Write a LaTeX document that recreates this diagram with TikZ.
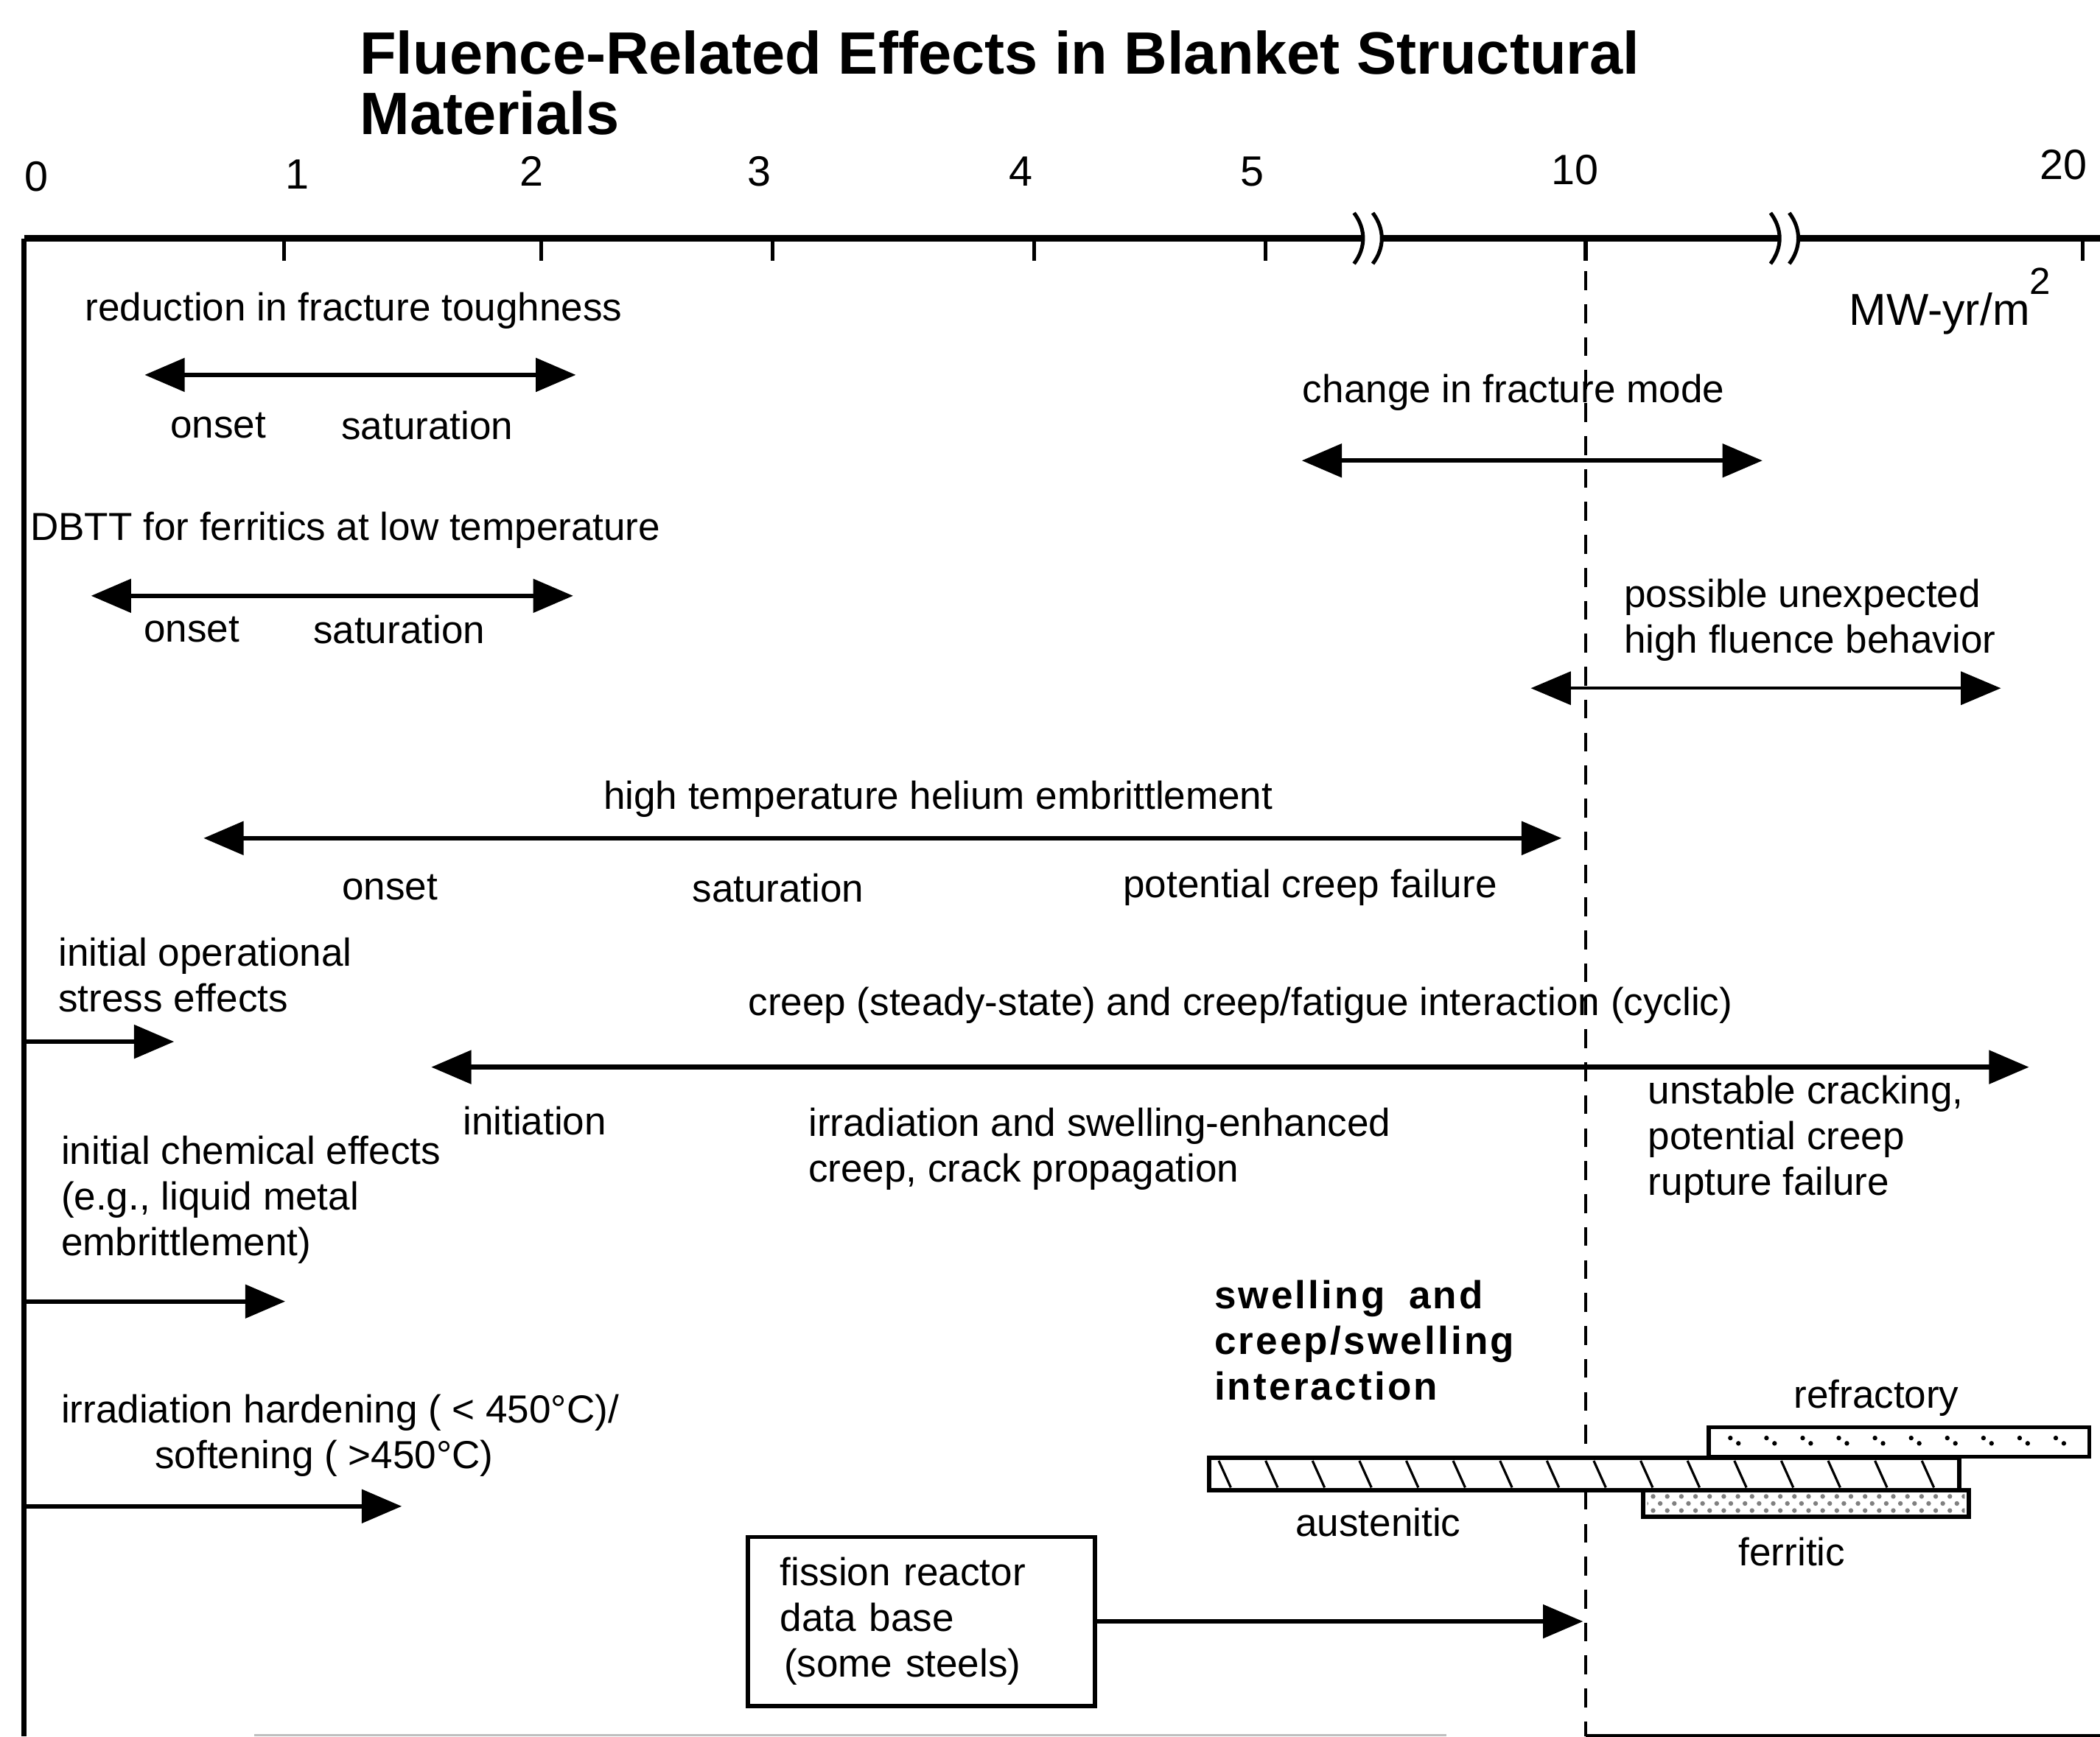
\documentclass[tikz,border=0pt]{standalone}
\usepackage{fontspec}
\setmainfont{Liberation Sans}
\newfontfamily\wideFont[LetterSpace=6]{Liberation Sans}
\usetikzlibrary{arrows.meta,patterns}

\begin{document}
\begin{tikzpicture}[x=0.01cm, y=-0.01cm,
    >={Triangle[length=8.5pt,width=7pt]},
    effectText/.style={font=\fontsize{8.3}{9.7}\selectfont, inner sep=0pt, anchor=west, align=left},
    subText/.style={font=\fontsize{8.3}{9.7}\selectfont, inner sep=0pt},
    effectArrow/.style={line width=1pt},
    tickLabel/.style={font=\fontsize{9}{10}\selectfont, inner sep=0pt}]
    \def\axisY{178}
    \def\bottomY{1297}
    \def\tenX{1184}

    \definecolor{inkColour}{HTML}{000000}
    \definecolor{dotColour}{HTML}{808080}

    \useasboundingbox (0,0) rectangle (1568,1297);

    % Title
    \node[anchor=west, inner sep=0pt, align=left, font=\fontsize{12.7}{12.8}\selectfont\bfseries] (title) at (268,62)
        {Fluence-Related Effects in Blanket Structural\\Materials};

    % Axes
    \draw[line width=1.3pt, inkColour] (18,\axisY) -- (1018,\axisY);
    \draw[line width=1.3pt, inkColour] (1032,\axisY) -- (1329,\axisY);
    \draw[line width=1.3pt, inkColour] (1343,\axisY) -- (1568,\axisY);
    \draw[line width=1.1pt, inkColour] (18,\axisY) -- (18,\bottomY);

    % Axis breaks
    \foreach \bx in {1014,1028,1325,1339}
        \draw[line width=0.8pt] (\bx-3,159) .. controls (\bx+6,171) and (\bx+6,185) .. (\bx-3,197);

    % Ticks and tick labels
    \foreach \x in {212,404,577,772,945,\tenX,1555}
        \draw[line width=0.8pt] (\x,\axisY) -- (\x,\axisY+17);
    \foreach \x/\y/\v in {27/132/0, 222/130/1, 397/128/2, 567/128/3, 762/128/4, 935/128/5, 1176/127/10, 1541/123/20}
        \node[tickLabel] (tick\v) at (\x,\y) {\v};
    \node[anchor=west, inner sep=0pt, font=\fontsize{9.5}{10}\selectfont] (unit) at (1380,225)
        {MW-yr/m\raisebox{6.5pt}{\fontsize{8}{8}\selectfont 2}};

    % 10 MW-yr/m2 line
    \draw[line width=0.7pt, dash pattern=on 4pt off 3pt] (\tenX,\axisY) -- (\tenX,\bottomY);
    \draw[gray!50, line width=0.4pt] (190,1296) -- (1080,1296);
    \draw[line width=0.6pt] (\tenX,1296) -- (1568,1296);

    % Fracture toughness
    \node[effectText] (toughness) at (63,232) {reduction in fracture toughness};
    \coordinate (toughL) at (108,280);
    \coordinate (toughR) at (430,280);
    \draw[effectArrow, <->] (toughL) -- (toughR);
    \node[subText] (toughOnset) at (163,318) {onset};
    \node[subText] (toughSat) at (319,318) {saturation};

    % Fracture mode
    \node[effectText] (mode) at (972,293) {change in fracture mode};
    \coordinate (modeL) at (972,344);
    \coordinate (modeR) at (1316,344);
    \draw[effectArrow, <->] (modeL) -- (modeR);

    % DBTT
    \node[effectText] (dbtt) at (22,396) {DBTT for ferritics at low temperature};
    \coordinate (dbttL) at (68,445);
    \coordinate (dbttR) at (428,445);
    \draw[effectArrow, <->] (dbttL) -- (dbttR);
    \node[subText] (dbttOnset) at (143,470) {onset};
    \node[subText] (dbttSat) at (298,470) {saturation};

    % High fluence
    \node[effectText] (unexpected) at (1212,463) {possible unexpected\\high fluence behavior};
    \coordinate (highL) at (1143,514);
    \coordinate (highR) at (1494,514);
    \draw[line width=0.7pt, <->] (highL) -- (highR);

    % Helium embrittlement
    \node[effectText] (helium) at (450,597) {high temperature helium embrittlement};
    \coordinate (heliumL) at (152,626);
    \coordinate (heliumR) at (1166,626);
    \draw[effectArrow, <->] (heliumL) -- (heliumR);
    \node[subText] (heliumOnset) at (291,663) {onset};
    \node[subText] (heliumSat) at (581,663) {saturation};
    \node[effectText] (heliumFail) at (838,663) {potential creep failure};

    % Operational stress
    \node[effectText] (stress) at (43,728) {initial operational\\stress effects};
    \coordinate (stressL) at (18,778);
    \coordinate (stressR) at (130,778);
    \draw[effectArrow, ->] (stressL) -- (stressR);

    % Creep
    \node[effectText] (creep) at (558,751) {creep (steady-state) and creep/fatigue interaction (cyclic)};
    \coordinate (creepL) at (322,797);
    \coordinate (creepR) at (1515,797);
    \draw[effectArrow, <->] (creepL) -- (creepR);
    \node[effectText] (creepInit) at (345,837) {initiation};
    \node[effectText] (creepProp) at (603,858) {irradiation and swelling-enhanced\\creep, crack propagation};
    \node[effectText] (creepRupt) at (1230,851) {unstable cracking,\\potential creep\\rupture failure};

    % Chemical effects
    \node[effectText] (chemical) at (45,896) {initial chemical effects\\(e.g., liquid metal\\embrittlement)};
    \coordinate (chemL) at (18,972);
    \coordinate (chemR) at (213,972);
    \draw[effectArrow, ->] (chemL) -- (chemR);

    % Hardening
    \node[effectText] (hardening) at (45,1055) {irradiation hardening ( < 450°C)/};
    \node[effectText] (softening) at (115,1089) {softening ( >450°C)};
    \coordinate (hardL) at (18,1125);
    \coordinate (hardR) at (300,1125);
    \draw[effectArrow, ->] (hardL) -- (hardR);

    % Swelling
    \node[effectText, font=\fontsize{8.3}{9.7}\wideFont\bfseries] (swelling) at (906,1001)
        {swelling\hspace{0.08cm} and\\creep/swelling\\interaction};
    \draw[line width=0.9pt, fill=white] (1276,1066) rectangle (1560,1088);
    \foreach \x in {1292,1319,...,1540} {
        \fill (\x,1074) circle (0.5pt);
        \fill (\x+6,1078) circle (0.5pt);
    }
    \draw[line width=0.9pt, fill=white] (903,1089) rectangle (1463,1113);
    \foreach \x in {910,945,...,1450}
        \draw[line width=0.5pt] (\x,1091) -- (\x+9,1111);
    \draw[line width=0.9pt, fill=white] (1227,1113) rectangle (1470,1133);
    \fill[pattern=crosshatch dots, pattern color=dotColour] (1230,1116) rectangle (1467,1130);
    \node[subText] (refractory) at (1401,1044) {refractory};
    \node[subText] (austenitic) at (1029,1137) {austenitic};
    \node[subText] (ferritic) at (1338,1159) {ferritic};

    % Fission data
    \node[draw, line width=0.9pt, minimum width=2.59cm, minimum height=1.26cm, text width=2.11cm,
        align=left, inner sep=0pt, font=\fontsize{8.3}{9.7}\selectfont] (fission) at (688,1211)
        {fission reactor\\data base\\\hspace*{0.03cm}(some steels)};
    \coordinate (dataEnd) at (1182,1211);
    \draw[effectArrow, ->] (fission) -- (dataEnd);

\end{tikzpicture}
\end{document}
